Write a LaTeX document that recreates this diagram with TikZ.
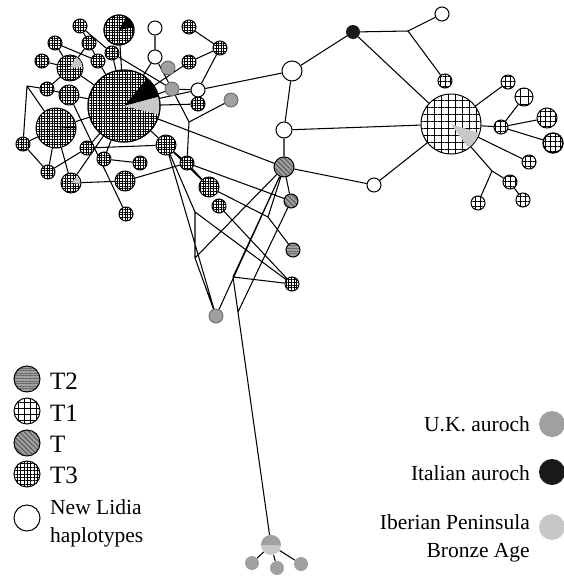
\documentclass[tikz,border=0pt]{standalone}
\usepackage{fontspec}
\setmainfont{Liberation Serif}
\usetikzlibrary{patterns.meta}
\pgfdeclarelayer{bg}
\pgfsetlayers{bg,main}
\definecolor{ukgray}{HTML}{A0A0A0}
\definecolor{ibgray}{HTML}{C8C8C8}
\begin{document}
\begin{tikzpicture}[x=1pt,y=-1pt,
  base/.style={circle, draw=black, line width=1pt, inner sep=0pt},
  tthree/.style={base, preaction={fill=white}, pattern={Hatch[angle=0,distance=2.6pt,line width=0.55pt]}},
  tone/.style={base, preaction={fill=white}, pattern={Hatch[angle=0,distance=5pt,line width=0.6pt]}},
  tstr/.style={base, preaction={fill=ukgray}, pattern={Lines[angle=-45,distance=3.4pt,line width=1pt]}, pattern color=black!65},
  ttwo/.style={base, preaction={fill=ukgray}, pattern={Lines[angle=0,distance=2.6pt,line width=0.8pt]}, pattern color=black!60},
  wnode/.style={base, fill=white},
  uk/.style={base, draw=black!65, line width=0.7pt, fill=ukgray},
  itn/.style={circle, inner sep=0pt, fill=black!90},
  ibn/.style={circle, inner sep=0pt, fill=ibgray},
  edge/.style={draw=black, line width=1.05pt},
  lab/.style={inner sep=0pt, font=\fontsize{21.5}{28}\selectfont},
  tlab/.style={inner sep=0pt, font=\fontsize{25}{28}\selectfont, anchor=base west}
]
\useasboundingbox (0,0) rectangle (564,576);

% ---- T3 nodes
\node[tthree, minimum size=72pt] (big) at (124,106) {};
\node[tthree, minimum size=30pt] (top) at (119,30) {};
\node[tthree, minimum size=14pt] (tA) at (80,26) {};
\node[tthree, minimum size=14pt] (tB) at (55,43) {};
\node[tthree, minimum size=14pt] (tC) at (89,43) {};
\node[tthree, minimum size=14pt] (tD) at (42,61) {};
\node[tthree, minimum size=14pt] (tE) at (98,61) {};
\node[tthree, minimum size=14pt] (tF) at (112,53) {};
\node[tthree, minimum size=26pt] (tG) at (70,68) {};
\node[tthree, minimum size=14pt] (tH) at (47,89) {};
\node[tthree, minimum size=20pt] (tI) at (69,95) {};
\node[tthree, minimum size=40pt] (tJ) at (56,128) {};
\node[tthree, minimum size=14pt] (tK) at (23,144) {};
\node[tthree, minimum size=14pt] (tL) at (87,148) {};
\node[tthree, minimum size=14pt] (tM) at (48,172) {};
\node[tthree, minimum size=20pt] (tN) at (71,183) {};
\node[tthree, minimum size=14pt] (tO) at (104,159) {};
\node[tthree, minimum size=14pt] (tP) at (140,163) {};
\node[tthree, minimum size=20pt] (tQ) at (125,181) {};
\node[tthree, minimum size=14pt] (tR) at (126,214) {};
\node[tthree, minimum size=20pt] (tS) at (166,145) {};
\node[tthree, minimum size=14pt] (tT) at (187,163) {};
\node[tthree, minimum size=20pt] (tU) at (209,187) {};
\node[tthree, minimum size=14pt] (tV) at (219,206) {};
\node[tthree, minimum size=14pt] (tW) at (198,104) {};
\node[tthree, minimum size=14pt] (tX) at (189,62) {};
\node[tthree, minimum size=14pt] (tY) at (189,27) {};
\node[tthree, minimum size=14pt] (tZ) at (220,48) {};
\node[tthree, minimum size=14pt] (t284) at (292,284) {};

% ---- white nodes
\node[wnode, minimum size=14pt] (w1) at (155,28) {};
\node[wnode, minimum size=14pt] (w2) at (155,57) {};
\node[wnode, minimum size=14pt] (w3) at (198,90) {};
\node[wnode, minimum size=20pt] (w4) at (292,71) {};
\node[wnode, minimum size=16pt] (w5) at (284,130) {};
\node[wnode, minimum size=14pt] (w6) at (374,185) {};
\node[wnode, minimum size=14pt] (w7) at (442,14) {};

% ---- aurochs
\node[uk, minimum size=14pt] (g1) at (168,68) {};
\node[uk, minimum size=14pt] (g2) at (172,89) {};
\node[uk, minimum size=14pt] (g3) at (231,100) {};
\node[uk, minimum size=14pt] (g4) at (216,316) {};
\node[itn, minimum size=14pt] (k1) at (353,32) {};

% ---- T and T2
\node[tstr, minimum size=20pt] (s1) at (284,167) {};
\node[tstr, minimum size=14pt] (s2) at (291,201) {};
\node[ttwo, minimum size=14pt] (h1) at (293,250) {};

% ---- T1
\node[tone, minimum size=60pt, pattern={Hatch[angle=0,distance=7pt,line width=0.6pt]}] (c) at (451,124) {};
\node[tone, minimum size=14pt] (u1) at (445,81) {};
\node[tone, minimum size=14pt] (u2) at (508,82) {};
\node[tone, minimum size=18pt, pattern={Hatch[angle=0,distance=8pt,line width=0.6pt]}] (u3) at (524,97) {};
\node[tone, minimum size=14pt] (u4) at (501,127) {};
\node[tone, minimum size=20pt] (u5) at (547,118) {};
\node[tone, minimum size=20pt, line width=1.4pt] (u6) at (553,143) {};
\node[tone, minimum size=14pt] (u7) at (529,162) {};
\node[tone, minimum size=14pt] (u8) at (510,182) {};
\node[tone, minimum size=14pt] (u9) at (523,200) {};
\node[tone, minimum size=14pt] (u10) at (478,203) {};

% ---- bottom cluster
\node[ibn, minimum size=20pt] (bot) at (271,545) {};
\fill[ukgray] (bot.center) -- ++(0:10pt) arc[start angle=0,end angle=180,radius=10pt] -- cycle;
\node[circle, inner sep=0pt, fill=ukgray, minimum size=14pt] (g5) at (252,563) {};
\node[circle, inner sep=0pt, fill=ukgray, minimum size=14pt] (g6) at (277,568) {};
\node[circle, inner sep=0pt, fill=ukgray, minimum size=14pt] (g7) at (301,564) {};

% ---- wedges
\fill[black] (big.center) -- ++(15:35.5pt) arc[start angle=15,end angle=50,radius=35.5pt] -- cycle;
\fill[ibgray] (big.center) -- ++(-14:35.5pt) arc[start angle=-14,end angle=15,radius=35.5pt] -- cycle;
\draw[line width=1pt] (big) circle[radius=36pt];
\fill[black] (top.center) -- ++(10:14.5pt) arc[start angle=10,end angle=60,radius=14.5pt] -- cycle;
\draw[line width=1pt] (top) circle[radius=15pt];
\fill[ibgray] (tG.center) -- ++(5:12.5pt) arc[start angle=5,end angle=60,radius=12.5pt] -- cycle;
\fill[ibgray] (tN.center) -- ++(-5:9.5pt) arc[start angle=-5,end angle=45,radius=9.5pt] -- cycle;
\fill[black] (tJ.center) -- ++(0:19.5pt) arc[start angle=0,end angle=5,radius=19.5pt] -- cycle;
\fill[ibgray] (c.center) -- ++(-54:29.5pt) arc[start angle=-54,end angle=-18,radius=29.5pt] -- cycle;

% ---- junctions
\coordinate (j1) at (408,31);
\coordinate (j2) at (492,171);
\coordinate (j3) at (27,86);
\coordinate (j4) at (189,122);
\coordinate (K) at (195,212);
\coordinate (L) at (195,258);
\coordinate (M) at (233,277);
\coordinate (Q) at (238,312);
\coordinate (P) at (268,217);

\begin{pgfonlayer}{bg}
\path[edge]
  (top) -- (big) (tA) -- (tC) (tA) -- (tF) (tC) -- (tE) (tC) -- (tG)
  (tB) -- (tG) (tB) -- (tE) (tD) -- (tG) (tG) -- (tH) (tG) -- (big)
  (tI) -- (big) (tE) -- (big) (tF) -- (big) (tF) -- (g2) (tH) -- (tI)
  (j3) -- (tH) (j3) -- (tJ) (j3) -- (tK) (tK) -- (tJ) (tK) -- (tM)
  (tJ) -- (tM) (tJ) -- (tN) (tJ) -- (big) (tM) -- (tL) (tL) -- (big)
  (tN) -- (big) (tN) -- (tQ) (tO) -- (tP) (tO) -- (big) (tL) -- (tS)
  (tI) -- (tR) (tQ) -- (tT) (tS) -- (big) (big) -- (s1) (tS) -- (tT)
  (tS) -- (tU) (tT) -- (tU) (tT) -- (j4) (j4) -- (g2) (j4) -- (g3)
  (tT) -- (s2) (tU) -- (P) (P) -- (h1) (P) -- (s1) (tV) -- (t284)
  (w1) -- (w2) (w2) -- (big) (w2) -- (g2) (tX) -- (big) (tX) -- (tZ)
  (tY) -- (tZ) (tZ) -- (w3) (g2) -- (w3) (big) -- (g2) (big) -- (w3)
  (big) -- (tW) (w3) -- (w4)
  (w4) -- (k1) (k1) -- (j1) (j1) -- (w7) (j1) -- (u1) (k1) -- (c)
  (w4) -- (w5) (w5) -- (s1) (w5) -- (c) (s1) -- (w6) (w6) -- (c)
  (c) -- (u2) (c) -- (u4) (u4) -- (u3) (u4) -- (u5) (u4) -- (u6)
  (c) -- (u7) (c) -- (j2) (j2) -- (u10) (j2) -- (u8) (u8) -- (u9)
  (tS) -- (g4) (tS) -- (K) (K) -- (L) (K) -- (t284) (L) -- (s1)
  (L) -- (g4) (s1) -- (g4) (s1) -- (M) (M) -- (t284) (M) -- (bot)
  (s2) -- (Q) (s1) -- (s2)
  (bot) -- (g5) (bot) -- (g6) (bot) -- (g7);
\end{pgfonlayer}

% ---- legend left
\node[ttwo, minimum size=26pt] (lT2) at (27,379) {};
\node[tone, minimum size=26pt, pattern={Hatch[angle=0,distance=6pt,line width=0.6pt]}] (lT1) at (27,411) {};
\node[tstr, minimum size=26pt] (lT) at (27,443) {};
\node[tthree, minimum size=26pt, pattern={Hatch[angle=0,distance=3.4pt,line width=0.6pt]}] (lT3) at (27,474) {};
\node[wnode, minimum size=26pt] (lW) at (27,518) {};
\node[tlab] (tT2) at (50,389) {T2};
\node[tlab] (tT1) at (50,421) {T1};
\node[tlab] (tTT) at (50,452) {T};
\node[tlab] (tT3) at (50,483) {T3};
\node[lab, anchor=base west, align=left] (tNL) at (50,542) {New Lidia\\haplotypes};

% ---- legend right
\node[circle, inner sep=0pt, fill=ukgray, minimum size=26pt] (lUK) at (552,424) {};
\node[circle, inner sep=0pt, fill=black!90, minimum size=26pt] (lIt) at (552,472) {};
\node[circle, inner sep=0pt, fill=ibgray, minimum size=26pt] (lIb) at (552,527) {};
\node[lab, anchor=base east] (tUK) at (530,431) {U.K. auroch};
\node[lab, anchor=base east] (tIt) at (530,480) {Italian auroch};
\node[lab, anchor=base east, align=right] (tIb) at (530,557) {Iberian Peninsula\\Bronze Age};
\end{tikzpicture}
\end{document}
